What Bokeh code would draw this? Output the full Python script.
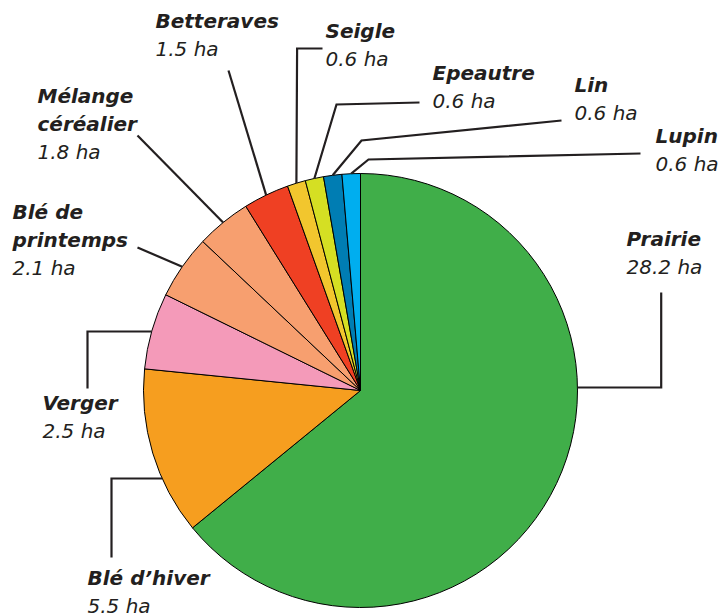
import math
from bokeh.plotting import figure
from bokeh.models import Range1d, ColumnDataSource
from bokeh.core.properties import value
from bokeh.embed import file_html
from bokeh.resources import INLINE

# ---- data ----
crops = ["Prairie", "Blé d’hiver", "Verger", "Blé de\nprintemps", "Mélange\ncéréalier",
         "Betteraves", "Seigle", "Epeautre", "Lin", "Lupin"]
areas = [28.2, 5.5, 2.5, 2.1, 1.8, 1.5, 0.6, 0.6, 0.6, 0.6]
colors = ["#40AE49", "#F69E1F", "#F49AB9", "#F79F6F", "#F79F6F",
          "#EF4023", "#F2C62E", "#D5DF23", "#007DB3", "#00AEEF"]
unit = "ha"

# ---- layout (picture pixel coordinates) ----
W, H = 721, 616
CX, CY, R = 360, 390, 217
label_pos = [(626, 238), (87, 577), (42, 402), (12, 211), (37, 95),
             (155, 20.5), (325, 30), (432, 72), (574, 84), (655, 135)]
line_gap = 28
attach_y = [387, 478, 331, None, None, None, None, None, None, None]
leader_via = [
    [(660.7, 387), (660.7, 292)],
    [(111, 478), (111, 557)],
    [(87, 331), (87, 388)],
    [(137, 247)],
    [(137, 135)],
    [(228, 70)],
    [(296.6, 48), (322, 48)],
    [(336, 104), (419, 102)],
    [(361, 140), (561, 120)],
    [(368, 159), (640, 153)],
]
INK = "#231F20"


def fy(py):
    return H - py  # picture y -> data y


p = figure(width=W, height=H, x_range=Range1d(0, W), y_range=Range1d(0, H),
           output_backend="svg", toolbar_location=None, min_border=0)
p.axis.visible = False
p.grid.visible = False
p.outline_line_color = None
p.background_fill_color = "white"

total = sum(areas)
cx, cy = CX, fy(CY)
starts, ends, mids = [], [], []
cum = 0.0
for a in areas:
    a0 = 90 - 360 * cum / total
    a1 = 90 - 360 * (cum + a) / total
    starts.append(a1)
    ends.append(a0)
    mids.append((a0 + a1) / 2)
    cum += a

src = ColumnDataSource(dict(start=starts, end=ends, color=colors))
p.wedge(x=cx, y=cy, radius=R, start_angle="start", end_angle="end", start_angle_units="deg",
        end_angle_units="deg", fill_color="color", line_color="black", line_width=1, source=src)

# leader lines
xs, ys = [], []
for i in range(len(crops)):
    m = math.radians(mids[i])
    if attach_y[i] is not None:
        dy = fy(attach_y[i]) - cy
        dx = math.sqrt(R * R - dy * dy)
        sx = cx + dx * (1 if math.cos(m) >= 0 else -1)
        sy = cy + dy
    else:
        sx = cx + R * math.cos(m)
        sy = cy + R * math.sin(m)
    xs.append([sx] + [v[0] for v in leader_via[i]])
    ys.append([sy] + [fy(v[1]) for v in leader_via[i]])
p.multi_line(xs=xs, ys=ys, line_color=INK, line_width=2.2, line_join="miter")

# labels
nx, ny, nt = [], [], []
vx, vy, vt = [], [], []
for i, name in enumerate(crops):
    lx, ly = label_pos[i]
    lines = name.split("\n")
    for k, ln in enumerate(lines):
        nx.append(lx)
        ny.append(fy(ly + k * line_gap))
        nt.append(ln)
    vx.append(lx)
    vy.append(fy(ly + len(lines) * line_gap))
    vt.append(f"{areas[i]} {unit}")

p.text(x="x", y="y", text="t", source=ColumnDataSource(dict(x=nx, y=ny, t=nt)),
       text_font=value("DejaVu Sans"), text_font_style="bold italic", text_font_size="20px",
       text_color=INK, text_baseline="alphabetic", text_align="left")
p.text(x="x", y="y", text="t", source=ColumnDataSource(dict(x=vx, y=vy, t=vt)),
       text_font=value("DejaVu Sans"), text_font_style="italic", text_font_size="20px",
       text_color=INK, text_baseline="alphabetic", text_align="left")

open("out.html", "w").write(file_html(p, INLINE))
